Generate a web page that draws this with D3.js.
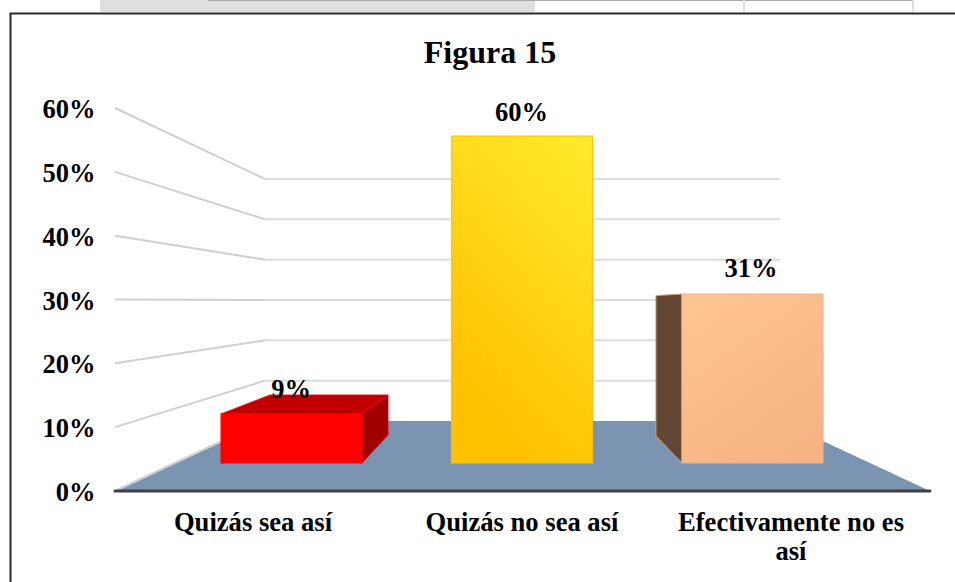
<!DOCTYPE html>
<html><head><meta charset="utf-8">
<script src="https://cdn.jsdelivr.net/npm/d3@7/dist/d3.min.js"></script>
<style>html,body{margin:0;padding:0;background:#fff;overflow:hidden}svg{display:block}text{font-family:"Liberation Serif",serif;font-weight:bold;fill:#000}</style>
</head><body><svg id="c" width="955" height="582"></svg>
<script>
const title = "Figura 15";
const categories = ["Quizás sea así", "Quizás no sea así", "Efectivamente no es así"];
const values = [9, 60, 31];
const shownLabels = ["9%", "60%", "31%"];
const ticks = [0, 10, 20, 30, 40, 50, 60];
const barColors = ["#ff0000", "url(#gy)", "url(#go)"];

const svg = d3.select("#c");
const defs = svg.append("defs");
function grad(id, x1, y1, x2, y2, a, b){
  const g = defs.append("linearGradient").attr("id", id).attr("x1", x1).attr("y1", y1).attr("x2", x2).attr("y2", y2);
  g.append("stop").attr("offset", 0).attr("stop-color", a);
  g.append("stop").attr("offset", 1).attr("stop-color", b);
}
grad("gy", 1, 0, .55, 1, "#ffec2c", "#ffc000");
grad("go", .2, 0, .8, 1, "#fec492", "#f6b282");

// page fragments above the chart
svg.append("rect").attr("x", 100).attr("y", 0).attr("width", 435).attr("height", 12).attr("fill", "#dfdfdf");
svg.append("rect").attr("x", 208).attr("y", 0).attr("width", 705).attr("height", 1).attr("fill", "#a8a8a8");
svg.append("rect").attr("x", 743).attr("y", 0).attr("width", 2).attr("height", 12).attr("fill", "#dfdfdf");
svg.append("rect").attr("x", 912).attr("y", 0).attr("width", 2).attr("height", 12).attr("fill", "#dfdfdf");
// chart frame
svg.append("path").attr("d", "M10.5,582V13.5H955").attr("fill", "none").attr("stroke", "#2b2b2b").attr("stroke-width", 2);

// scales
const yFront = d3.scaleLinear().domain([0, 60]).range([491, 108]);
const yBack = d3.scaleLinear().domain([0, 60]).range([421, 179]);
const yBar = d3.scaleLinear().domain([0, 60]).range([463, 136]);
const x0 = 115, x1 = 265, x2 = 780, x3 = 930;

// floor
svg.append("path").attr("d", d3.line()([[x0, yFront(0)], [x1, yBack(0)], [x2, yBack(0)], [x3, yFront(0)]]) + "Z").attr("fill", "#7b94b2");

// gridlines
ticks.forEach(t => {
  svg.append("path").attr("d", d3.line()([[x0, yFront(t)], [x1, yBack(t)]])).attr("fill", "none").attr("stroke", "#cfcfcf").attr("stroke-width", 2);
  if (t > 0) svg.append("path").attr("d", d3.line()([[x1, yBack(t)], [x2, yBack(t)]])).attr("fill", "none").attr("stroke", "#dcdcdc").attr("stroke-width", 2);
});
svg.append("path").attr("d", d3.line()([[x0, yFront(0)], [x3, yFront(0)]])).attr("stroke", "#404040").attr("stroke-width", 3).attr("stroke-linecap", "round");

// tick labels
svg.selectAll("text.tick").data(ticks).join("text").attr("class", "tick")
  .attr("x", 95.5).attr("y", d => yFront(d) + 1).attr("dy", "0.34em").attr("text-anchor", "end")
  .attr("font-size", 26.5).text(d => d + "%");

// bars
const xs = d3.scaleBand().domain(categories).range([221, 823]).paddingInner(0.388).paddingOuter(0);
const base = yBar(0);
categories.forEach((c, i) => {
  const l = xs(c), r = l + xs.bandwidth(), t = yBar(values[i]);
  const g = svg.append("g");
  const poly = (pts, fill) => g.append("path").attr("d", d3.line()(pts) + "Z").attr("fill", fill);
  if (i === 0) {
    poly([[l, t], [l + 49, t - 19], [r + 26, t - 19], [r, t]], "#c00000").attr("stroke", "#ff0000").attr("stroke-width", .8);
    poly([[r, t], [r + 26, t - 19], [r + 26, base - 28], [r, base]], "#a00000").attr("stroke", "#ff0000").attr("stroke-width", .8);
  }
  if (i === 2) {
    poly([[l - 26, t + 1.5], [l, t], [l, base], [l - 26, base - 27]], "#614634").attr("stroke", "#d9a27a").attr("stroke-width", 1);
  }
  g.append("rect").attr("x", l).attr("y", t).attr("width", xs.bandwidth()).attr("height", base - t)
    .attr("fill", barColors[i]).attr("stroke", ["#ff0000", "#ffc000", "#f0b080"][i]).attr("stroke-width", 1);
});

// data labels
const labelX = [291, 521.5, 751];
const labelY = [398, 121, 277];
svg.selectAll("text.val").data(shownLabels).join("text").attr("class", "val")
  .attr("x", (d, i) => labelX[i]).attr("y", (d, i) => labelY[i]).attr("text-anchor", "middle")
  .attr("font-size", 26.5).text(d => d);

// title
svg.append("text").attr("x", 490).attr("y", 63).attr("text-anchor", "middle").attr("font-size", 32).text(title);

// category labels
const catX = [253, 522, 791];
const catLines = [["Quizás sea así"], ["Quizás no sea así"], ["Efectivamente no es", "así"]];
catLines.forEach((ls, i) => ls.forEach((s, j) => {
  svg.append("text").attr("x", catX[i]).attr("y", 531 + j * 29).attr("text-anchor", "middle").attr("font-size", 26.6).text(s);
}));
</script></body></html>
